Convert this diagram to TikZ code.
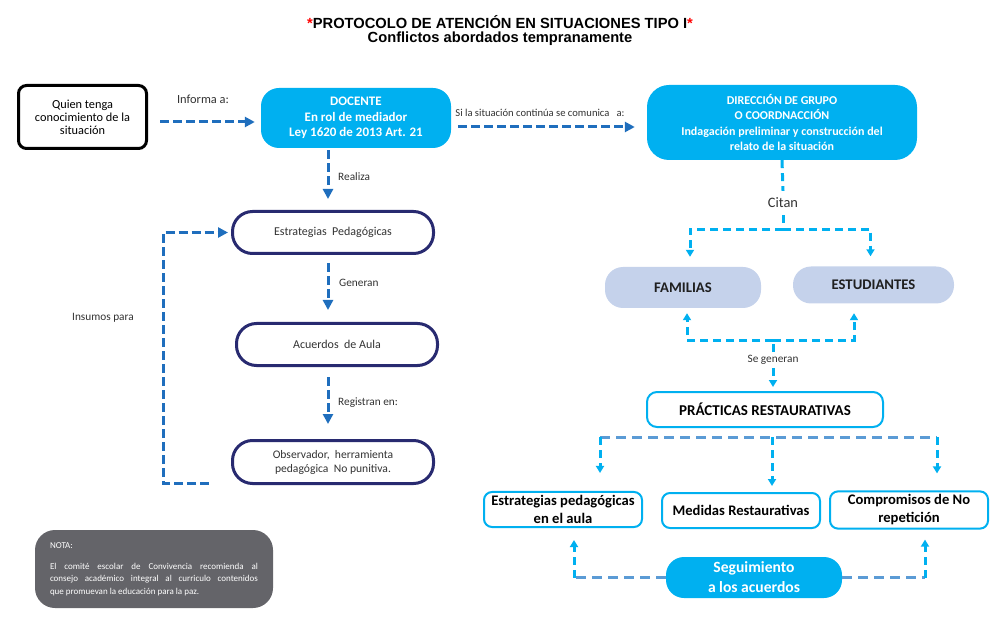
\documentclass[tikz,border=0pt]{standalone}
\usepackage{fontspec}
\setmainfont{Carlito}
\newfontfamily\titlefont{Liberation Sans}
\usetikzlibrary{arrows.meta}
\definecolor{boxcyan}{RGB}{0,176,240}
\definecolor{arrowblue}{RGB}{31,110,189}
\definecolor{navyline}{RGB}{40,42,112}
\definecolor{citedfill}{RGB}{197,210,235}
\definecolor{steelline}{RGB}{91,155,213}
\definecolor{notegray}{RGB}{100,100,105}
\definecolor{textgray}{RGB}{50,50,50}
\tikzset{
  cyanbox/.style={fill=boxcyan, rounded corners=18pt, text=white, align=center, font=\bfseries\fontsize{13}{15.5}\selectfont},
  pillbox/.style={draw=navyline, line width=3pt, rounded corners=20pt, minimum width=201pt, minimum height=42pt, text=textgray, align=center, font=\fontsize{12}{14}\selectfont},
  citedbox/.style={fill=citedfill, rounded corners=18pt, text=black!88, font=\bfseries\fontsize{14.7}{17}\selectfont},
  outcomebox/.style={draw=boxcyan, line width=2pt, rounded corners=8pt, fill=white, minimum width=158pt, minimum height=35pt, align=center, font=\bfseries\fontsize{14.6}{18}\selectfont},
  lbl/.style={inner sep=1pt, text=textgray, font=\fontsize{11.3}{13}\selectfont},
  darrow/.style={arrowblue, line width=3pt, dash pattern=on 9pt off 4pt, -{Triangle[length=10pt,width=10pt]}},
  cline/.style={boxcyan, line width=3pt, dash pattern=on 8pt off 5pt},
  carrow/.style={cline, -{Triangle[length=7pt,width=8pt]}},
  sline/.style={steelline, line width=3pt, dash pattern=on 10pt off 6pt}
}
\begin{document}
\begin{tikzpicture}[x=1pt,y=-1pt]
\useasboundingbox (0,0) rectangle (998,617);
\node[font=\titlefont\bfseries\fontsize{14.7}{16}\selectfont] (titulo) at (500,22) {\textcolor{red}{*}PROTOCOLO DE ATENCIÓN EN SITUACIONES TIPO I\textcolor{red}{*}};
\node[font=\titlefont\bfseries\fontsize{14.7}{16}\selectfont] (subtitulo) at (500,39) {Conflictos abordados tempranamente};

\node[draw=black, line width=3pt, rounded corners=8pt, minimum width=128pt, minimum height=63pt, align=center, font=\fontsize{12.3}{13}\selectfont] (quien) at (82.5,117) {Quien tenga\\conocimiento de la\\situación};
\node[cyanbox, minimum width=190pt, minimum height=60pt] (docente) at (356,118) {DOCENTE\\En rol de mediador\\Ley 1620 de 2013 Art. 21};
\node[cyanbox, rounded corners=22pt, minimum width=270pt, minimum height=75pt, font=\bfseries\fontsize{12}{15.5}\selectfont] (direccion) at (782,122.5) {DIRECCIÓN DE GRUPO\\O COORDNACCIÓN\\Indagación preliminar y construcción del\\relato de la situación};

\node[lbl, font=\fontsize{12.4}{14}\selectfont] (informa) at (203,99) {Informa a:};
\node[lbl, font=\fontsize{10.6}{12}\selectfont] (comunica) at (540,113) {Si la situación continúa se comunica\ \ \ a:};
\draw[darrow] ([xshift=12pt,yshift=-5pt]quien.east) -- ([xshift=-6pt,yshift=-4pt]docente.west);
\draw[darrow] ([xshift=7pt,yshift=-9pt]docente.east) -- ([xshift=-12pt,yshift=-4.5pt]direccion.west);

\node[pillbox] (estrategias) at (333,232.5) {Estrategias~ Pedagógicas};
\node[pillbox] (acuerdos) at (337,344.5) {Acuerdos~ de Aula};
\node[pillbox, minimum height=43pt, font=\fontsize{11.6}{14}\selectfont] (observador) at (333,462) {Observador,~ herramienta\\pedagógica~ No punitiva.};
\node[lbl, anchor=west] (realiza) at (337,177) {Realiza};
\node[lbl, anchor=west] (generan) at (338,283) {Generan};
\node[lbl, anchor=west] (registran) at (337,403) {Registran en:};
\node[lbl] (insumos) at (103,318) {Insumos para};
\draw[darrow] ([xshift=-28pt,yshift=-2pt]docente.south) -- ([xshift=-5pt,yshift=11pt]estrategias.north);
\draw[darrow] ([xshift=-5pt,yshift=-8pt]estrategias.south) -- ([xshift=-9pt,yshift=12pt]acuerdos.north);
\draw[darrow] ([xshift=-9pt,yshift=-10pt]acuerdos.south) -- ([xshift=-5pt,yshift=15pt]observador.north);
\draw[darrow] ([xshift=-22pt,yshift=-21pt]observador.west) -- ++(-46,0) |- ([xshift=-3pt]estrategias.west);

\node[citedbox, minimum width=156pt, minimum height=41pt] (familias) at (683,287.5) {FAMILIAS};
\node[citedbox, minimum width=161pt, minimum height=37pt] (estudiantes) at (873.5,285) {ESTUDIANTES};
\node[lbl, inner sep=7pt, font=\fontsize{14.4}{16}\selectfont] (citan) at (783,203) {Citan};
\draw[cline] (direccion.south) -- (citan.north);
\draw[cline] (citan.south) -- ++(0,14) coordinate (citanj);
\draw[carrow] (citanj) -| ([xshift=7pt,yshift=10pt]familias.north);
\draw[carrow] (citanj) -| ([xshift=-3pt,yshift=10pt]estudiantes.north);

\node[draw=boxcyan, line width=2pt, rounded corners=10pt, minimum width=236pt, minimum height=35pt, font=\bfseries\fontsize{15}{17}\selectfont] (practicas) at (765,409.5) {PRÁCTICAS RESTAURATIVAS};
\node[lbl, inner sep=3pt] (segeneran) at (773,360) {Se generan};
\draw[cline] (segeneran.north) -- ++(0,-12) coordinate (segj);
\draw[carrow] (segj) -| ([xshift=4pt,yshift=-5pt]familias.south);
\draw[carrow] (segj) -| ([xshift=-19.5pt,yshift=-9.5pt]estudiantes.south);
\draw[carrow] (segeneran.south) -- ([xshift=8pt,yshift=4pt]practicas.north);

\node[outcomebox] (estaula) at (563,509.5) {Estrategias pedagógicas\\en el aula};
\node[outcomebox] (medidas) at (741,510.5) {Medidas Restaurativas};
\node[outcomebox] (compromisos) at (909,510) {Compromisos de No\\repetición};
\coordinate (prj) at ([xshift=7pt,yshift=-9pt]practicas.south);
\coordinate (estaulaend) at ([xshift=37pt,yshift=18pt]estaula.north);
\coordinate (medidasend) at ([xshift=31pt,yshift=6pt]medidas.north);
\coordinate (comprend) at ([xshift=28pt,yshift=17pt]compromisos.north);
\draw[sline] (prj -| estaulaend) -- (prj -| comprend);
\draw[carrow] (prj -| estaulaend) -- (estaulaend);
\draw[carrow] (prj) -- (medidasend);
\draw[carrow] (prj -| comprend) -- (comprend);

\node[cyanbox, minimum width=176pt, minimum height=41pt, font=\bfseries\fontsize{15.6}{20}\selectfont] (seguimiento) at (754,577.5) {Seguimiento\\a los acuerdos};
\coordinate (segl) at ([xshift=11pt,yshift=-12pt]estaula.south);
\coordinate (segr) at ([xshift=16pt,yshift=-10pt]compromisos.south);
\draw[sline] (seguimiento.west) -- (seguimiento.west -| segl);
\draw[carrow] (seguimiento.west -| segl) -- (segl);
\draw[sline] (seguimiento.east) -- (seguimiento.east -| segr);
\draw[carrow] (seguimiento.east -| segr) -- (segr);

\node[fill=notegray, rounded corners=20pt, minimum width=238pt, minimum height=78pt, text width=208pt, align=justify, text=white, font=\fontsize{9}{12.5}\selectfont] (nota) at (154,569) {NOTA:\\[8.5pt] El comité escolar de Convivencia recomienda al\linebreak consejo académico integral al curriculo contenidos\linebreak que promuevan la educación para la paz.};
\end{tikzpicture}
\end{document}
